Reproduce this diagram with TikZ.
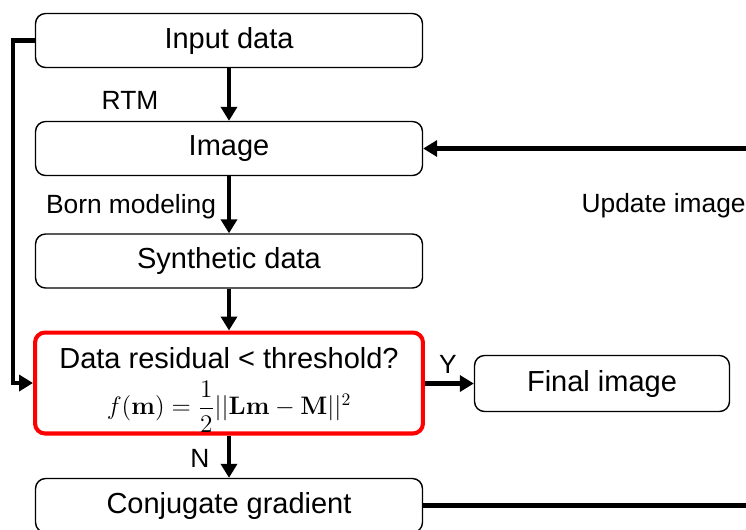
\documentclass[tikz,border=0pt]{standalone}
\usepackage{amsmath}
\usepackage{amssymb}
\usepackage[no-math]{fontspec}
\setmainfont{Liberation Sans}
\usetikzlibrary{arrows.meta}

\begin{document}
\begin{tikzpicture}[x=0.02cm, y=-0.02cm,
    box/.style={draw, line width=0.8pt, rounded corners=0.2cm, minimum width=7.74cm,
      minimum height=1.08cm, font=\fontsize{16.5}{19}\selectfont},
    flow/.style={line width=2.3pt, -{Triangle[length=0.28cm, width=0.32cm]}},
    lbl/.style={font=\fontsize{15}{18}\selectfont}]

    \path[use as bounding box, clip] (0,0) rectangle (746,529);
    \def\cx{229} % 方框中心

    \node[box] (inp) at (\cx,40.5) {Input data};
    \node[box] (img) at (\cx,148.5) {Image};
    \node[box] (syn) at (\cx,261) {Synthetic data};
    \node[box, draw=red, line width=2.3pt, minimum width=7.76cm, minimum height=2.02cm,
      inner ysep=0pt, align=center] (res) at (\cx,383)
      {\rule{0pt}{20pt}Data residual < threshold?\\[6pt]
       {\fontsize{14}{16}\selectfont $f(\mathbf{m}) = \dfrac{1}{2}||\mathbf{Lm}-\mathbf{M}||^2$}};
    \node[box] (cg) at (\cx,505.5) {Conjugate gradient};
    \node[box, minimum width=5.1cm, minimum height=1.12cm] (fin) at (602,383.5) {Final image};

    \draw[flow] (inp) -- (img);
    \draw[flow] (img) -- (syn);
    \draw[flow] (syn) -- (res);
    \draw[flow] (res) -- (cg);
    \draw[flow] (res.east |- fin.west) -- (fin.west);
    \draw[flow] (inp.west) -- ++(-22,0) |- (res.west);
    \coordinate (rgt) at (790,0);
    \draw[flow] (cg.east) -- (cg.east -| rgt) |- (img.east);

    \node[lbl] (rtm) at (130,100) {RTM};
    \node[lbl] (born) at (131,207) {Born modeling};
    \node[lbl] (no) at (200,458) {N};
    \node[lbl] (yes) at (448,364) {Y};
    \node[lbl, anchor=east, inner sep=0pt] (upd) at (746,206) {Update image};

  \end{tikzpicture}
\end{document}
